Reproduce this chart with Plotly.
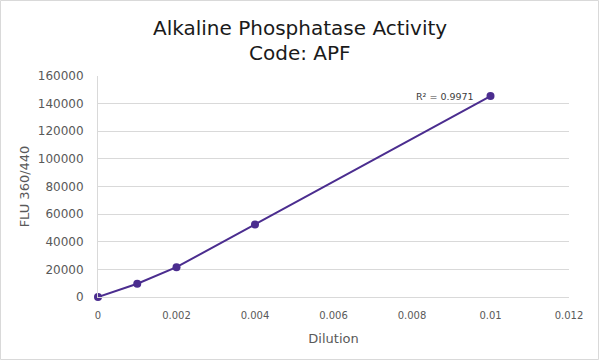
import plotly.graph_objects as go

dilution = [0, 0.001, 0.002, 0.004, 0.01]
flu = [0, 9600, 21600, 52500, 145500]
r2_label = "R² = 0.9971"
title_lines = ["Alkaline Phosphatase Activity", "Code: APF"]

W, H = 599, 360
L, R, T, B = 98, 30, 76, 63
pw, ph = W - L - R, H - T - B

fig = go.Figure()
fig.add_trace(go.Scatter(
    x=dilution, y=flu, mode="lines+markers",
    line=dict(color="#4B2D8F", width=2),
    marker=dict(color="#4B2D8F", size=8),
    showlegend=False, cliponaxis=False,
))

font = "DejaVu Sans, Verdana, sans-serif"
fig.update_layout(
    width=W, height=H,
    margin=dict(l=L, r=R, t=T, b=B),
    paper_bgcolor="white", plot_bgcolor="white",
    font=dict(family=font, color="#595959"),
    xaxis=dict(range=[0, 0.012], tickvals=[0, 0.002, 0.004, 0.006, 0.008, 0.01, 0.012],
               ticktext=["0", "0.002", "0.004", "0.006", "0.008", "0.01", "0.012"],
               showgrid=False, zeroline=False, showline=True, linecolor="#d9d9d9",
               ticks="", ticklabelstandoff=9, tickfont=dict(size=10, color="#595959"),
               title=dict(text="Dilution", font=dict(size=13, color="#595959"), standoff=13)),
    yaxis=dict(range=[0, 160000], dtick=20000, tickformat="d",
               showgrid=True, gridcolor="#d9d9d9", zeroline=False,
               showline=True, linecolor="#d9d9d9", ticks="", ticklabelstandoff=11,
               tickfont=dict(size=12, color="#595959"),
               title=dict(text="FLU 360/440", font=dict(size=13, color="#595959"), standoff=5)),
)
for i, line in enumerate(title_lines):
    fig.add_annotation(x=(300 - L) / pw, y=1 + (T - 28 - 25 * i) / ph, xref="paper", yref="paper",
                       text=line, showarrow=False, xanchor="center", yanchor="middle",
                       font=dict(size=20, color="#1a1a1a", family=font))
fig.add_annotation(x=dilution[-1], y=flu[-1], xref="x", yref="y", text=r2_label,
                   showarrow=False, xanchor="right", yanchor="middle", xshift=-15,
                   font=dict(size=9.5, color="#404040", family=font))
fig.add_shape(type="rect", xref="paper", yref="paper",
              x0=(0.5 - L) / pw, x1=(W - 0.5 - L) / pw,
              y0=-(B - 0.5) / ph, y1=1 + (T - 0.5) / ph,
              line=dict(color="#d9d9d9", width=1))
fig.write_html("out.html")
